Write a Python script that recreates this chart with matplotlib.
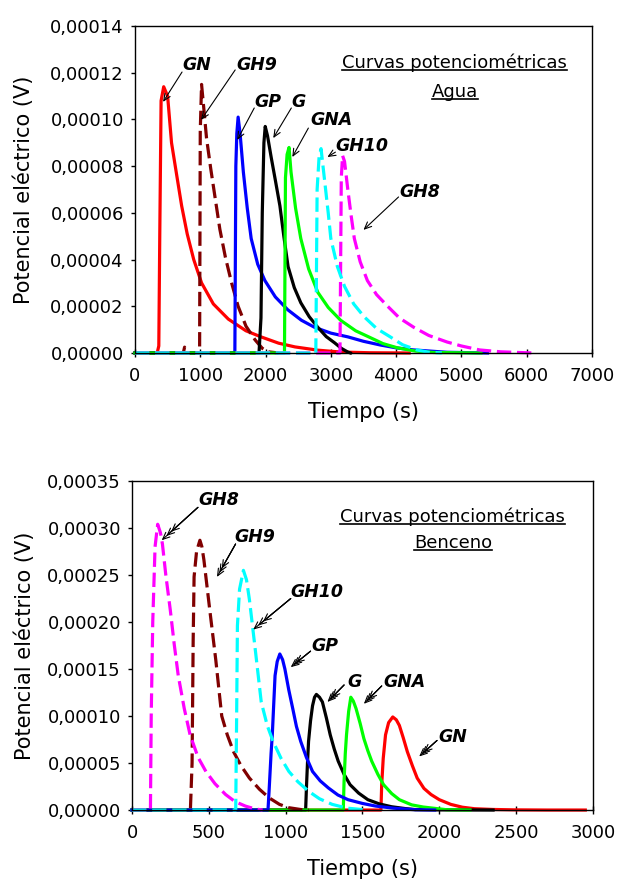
import matplotlib
matplotlib.use("Agg")
import matplotlib.pyplot as plt
from matplotlib.ticker import FuncFormatter, MultipleLocator
from matplotlib.lines import Line2D
from matplotlib.transforms import IdentityTransform

# ---- Agua (water) curves: time in s, potential in 1e-5 V ----
agua_gn_t = [0, 340, 365, 380, 400, 440, 500, 560, 640, 715, 800, 900, 1020, 1200, 1430, 1700, 1930, 2200, 2450, 2800, 3150, 3600, 4200]
agua_gn_v = [0, 0, 0.3, 5.1, 10.8, 11.4, 11.0, 9.0, 7.6, 6.3, 5.1, 4.0, 3.0, 2.1, 1.45, 0.95, 0.69, 0.42, 0.26, 0.12, 0.04, 0.01, 0]

agua_gh9_t = [0, 740, 760, 780, 990, 1000, 1020, 1060, 1096, 1160, 1230, 1300, 1385, 1480, 1580, 1700, 1840, 1950, 2040, 2200]
agua_gh9_v = [0, 0, 0.25, 0, 0, 9.5, 11.5, 10.3, 9.2, 7.9, 6.6, 5.3, 4.1, 3.0, 2.0, 1.15, 0.56, 0.2, 0.05, 0]

agua_gp_t = [0, 1530, 1545, 1560, 1580, 1610, 1660, 1720, 1780, 1880, 1990, 2150, 2340, 2550, 2750, 3000, 3260, 3500, 3760, 4000, 4270, 4780, 5400]
agua_gp_v = [0, 0, 8.0, 9.4, 10.1, 9.4, 7.75, 6.2, 4.9, 3.8, 3.1, 2.4, 1.85, 1.4, 1.1, 0.85, 0.69, 0.5, 0.34, 0.22, 0.13, 0.03, 0]

agua_g_t = [0, 1900, 1930, 1950, 1975, 1995, 2030, 2085, 2150, 2220, 2280, 2345, 2440, 2540, 2670, 2800, 2930, 3060, 3160, 3260, 3300]
agua_g_v = [0, 0, 1.5, 6.0, 9.0, 9.7, 9.3, 8.4, 7.4, 6.3, 5.0, 3.7, 2.8, 2.15, 1.55, 1.1, 0.7, 0.43, 0.2, 0.04, 0]

agua_gna_t = [0, 2290, 2305, 2330, 2360, 2390, 2460, 2540, 2660, 2800, 2960, 3150, 3380, 3610, 3800, 4020, 4300, 4580, 5300]
agua_gna_v = [0, 0, 7.5, 8.5, 8.8, 7.75, 6.2, 4.9, 3.6, 2.6, 1.95, 1.4, 0.95, 0.65, 0.4, 0.22, 0.08, 0.02, 0]

agua_gh8_t = [0, 3140, 3160, 3180, 3210, 3260, 3310, 3360, 3450, 3560, 3700, 3870, 4050, 4270, 4500, 4780, 5000, 5280, 5600, 6000, 6100]
agua_gh8_v = [0, 0, 7.5, 8.45, 8.2, 7.0, 5.9, 4.9, 3.9, 3.1, 2.5, 2.0, 1.5, 1.1, 0.75, 0.47, 0.3, 0.13, 0.05, 0.01, 0]

agua_gh10_t = [0, 2770, 2790, 2820, 2850, 2880, 2920, 2960, 3000, 3100, 3210, 3350, 3510, 3700, 3910, 4100, 4320, 4500, 4700]
agua_gh10_v = [0, 0, 7.0, 8.4, 8.75, 8.0, 7.0, 6.0, 4.9, 3.7, 2.85, 2.1, 1.55, 1.05, 0.69, 0.35, 0.13, 0.03, 0]

# ---- Benceno (benzene) curves ----
benc_gn_t = [0, 1620, 1625, 1635, 1650, 1670, 1697, 1720, 1740, 1765, 1792, 1825, 1856, 1900, 1946, 2000, 2075, 2150, 2229, 2350, 2486, 2700, 2950]
benc_gn_v = [0, 0, 2.7, 5.5, 8.0, 9.3, 9.9, 9.6, 9.0, 7.7, 6.2, 4.7, 3.4, 2.3, 1.65, 1.1, 0.6, 0.3, 0.14, 0.06, 0.02, 0, 0]

benc_g_t = [0, 1130, 1136, 1142, 1149, 1162, 1175, 1188, 1200, 1220, 1239, 1265, 1290, 1316, 1342, 1380, 1419, 1475, 1535, 1610, 1689, 1780, 1843, 2000, 2350]
benc_g_v = [0, 0, 2.7, 5, 7.3, 9.5, 11.1, 12.0, 12.3, 12.0, 11.5, 9.8, 8.0, 6.5, 5.2, 3.8, 2.7, 1.8, 1.1, 0.65, 0.35, 0.15, 0.05, 0.02, 0]

benc_gna_t = [0, 1375, 1380, 1388, 1396, 1410, 1424, 1440, 1458, 1485, 1509, 1535, 1560, 1600, 1637, 1690, 1740, 1820, 1895, 2049, 2200]
benc_gna_v = [0, 0, 3, 6, 8.0, 10.5, 12.0, 11.6, 10.8, 9.2, 7.6, 6.3, 5.2, 3.8, 2.7, 1.75, 1.1, 0.55, 0.32, 0.03, 0]

benc_gp_t = [0, 885, 892, 905, 913, 931, 945, 962, 980, 995, 1020, 1046, 1070, 1098, 1135, 1175, 1225, 1278, 1340, 1406, 1500, 1586, 1700, 1843, 1970]
benc_gp_v = [0, 0, 2, 6, 8.0, 14.3, 15.8, 16.6, 16.0, 15.0, 12.8, 10.8, 8.9, 7.3, 5.6, 4.1, 3.1, 2.35, 1.6, 1.1, 0.7, 0.42, 0.2, 0.03, 0]

benc_gh9_t = [0, 380, 391, 398, 404, 420, 442, 455, 468, 506, 545, 584, 620, 661, 710, 764, 830, 892, 960, 1020, 1100, 1150]
benc_gh9_v = [0, 0, 5, 18, 24.8, 27.5, 28.7, 28.0, 26.6, 21.3, 16.0, 10.0, 8.0, 6.2, 4.7, 3.4, 2.2, 1.3, 0.6, 0.25, 0.05, 0]

benc_gh8_t = [0, 120, 125, 135, 150, 167, 185, 198, 220, 249, 275, 301, 340, 378, 430, 481, 540, 609, 670, 738, 800, 850]
benc_gh8_v = [0, 0, 10, 20, 28, 30.4, 29.5, 28.3, 25.0, 21.3, 17.6, 14.3, 10.8, 8.0, 5.6, 4.1, 2.8, 1.65, 0.9, 0.42, 0.12, 0]

benc_gh10_t = [0, 675, 681, 686, 700, 725, 745, 764, 802, 841, 880, 918, 970, 1021, 1080, 1149, 1220, 1303, 1400, 1530]
benc_gh10_v = [0, 0, 10, 19.6, 23.5, 25.5, 24.5, 22.4, 17.1, 11.5, 9.0, 7.3, 5.5, 4.1, 3.0, 2.0, 1.2, 0.6, 0.2, 0]

RED, DRED, BLUE, BLACK, GREEN, CYAN, MAG = "#FF0000", "#800000", "#0000FF", "#000000", "#00FF00", "#00FFFF", "#FF00FF"
DASH = (0, (4.5, 1.8))

agua_series = [
    (agua_gn_t, agua_gn_v, RED, "-"),
    (agua_gh9_t, agua_gh9_v, DRED, DASH),
    (agua_gp_t, agua_gp_v, BLUE, "-"),
    (agua_g_t, agua_g_v, BLACK, "-"),
    (agua_gna_t, agua_gna_v, GREEN, "-"),
    (agua_gh8_t, agua_gh8_v, MAG, DASH),
    (agua_gh10_t, agua_gh10_v, CYAN, DASH),
]
benc_series = [
    (benc_gn_t, benc_gn_v, RED, "-"),
    (benc_g_t, benc_g_v, BLACK, "-"),
    (benc_gna_t, benc_gna_v, GREEN, "-"),
    (benc_gp_t, benc_gp_v, BLUE, "-"),
    (benc_gh9_t, benc_gh9_v, DRED, DASH),
    (benc_gh8_t, benc_gh8_v, MAG, DASH),
    (benc_gh10_t, benc_gh10_v, CYAN, DASH),
]

# labels: name, text pos, arrow start, arrow tip  (t, V*1e5)
agua_labels = [
    ("GN", (952, 12.33), (721, 12.03), (430, 10.75)),
    ("GH9", (1873, 12.33), (1535, 12.12), (1013, 9.98)),
    ("GP", (2042, 10.75), (1827, 10.49), (1566, 9.12)),
    ("G", (2502, 10.75), (2395, 10.49), (2118, 9.2)),
    ("GNA", (3009, 9.98), (2656, 9.63), (2410, 8.39)),
    ("GH10", (3469, 8.86), (3070, 8.6), (2947, 8.39)),
    ("GH8", (4360, 6.89), (4037, 6.68), (3500, 5.27)),
]
benc_labels = [
    ("GH8", (563, 33.0), (429, 32.2), (193, 28.7)),
    ("GH9", (802, 29.0), (674, 28.3), (553, 24.8)),
    ("GH10", (1200, 23.2), (1033, 22.5), (789, 19.2)),
    ("GP", (1252, 17.4), (1162, 16.9), (1033, 15.2)),
    ("G", (1445, 13.65), (1380, 13.3), (1272, 11.5)),
    ("GNA", (1771, 13.65), (1625, 13.2), (1509, 11.3)),
    ("GN", (2088, 7.8), (1985, 7.4), (1869, 5.7)),
]

fig = plt.figure(figsize=(6.18, 8.82), dpi=100)
ax1 = fig.add_axes([0.2184, 0.5998, 0.7395, 0.3707])
ax2 = fig.add_axes([0.2136, 0.0816, 0.7459, 0.373])

fmt = FuncFormatter(lambda v, p: ("%.5f" % v).replace(".", ","))


def setup(ax, xmax, xstep, ymax, ystep, xlab_y, ylab_x):
    ax.set_xlim(0, xmax)
    ax.set_ylim(0, ymax)
    ax.xaxis.set_major_locator(MultipleLocator(xstep))
    ax.yaxis.set_major_locator(MultipleLocator(ystep))
    ax.yaxis.set_major_formatter(fmt)
    ax.tick_params(labelsize=13, colors="black", width=1)
    ax.tick_params(axis="x", direction="inout", length=6, pad=7)
    ax.tick_params(axis="y", direction="out", length=3, pad=5)
    for s in ax.spines.values():
        s.set_linewidth(1)
    ax.set_xlabel("Tiempo (s)", fontsize=15)
    ax.set_ylabel("Potencial eléctrico (V)", fontsize=15)
    ax.xaxis.set_label_coords(0.5, xlab_y)
    ax.yaxis.set_label_coords(ylab_x, 0.5)


def draw(ax, series, labels, multi):
    for t, v, c, ls in series:
        ax.plot(t, [x * 1e-5 for x in v], color=c, lw=2.3, linestyle=ls, clip_on=False)
    for name, tp, st, tip in labels:
        ax.text(tp[0], tp[1] * 1e-5, name, fontsize=12.5, fontweight="bold",
                fontstyle="italic", ha="center", va="center")
        n = 3 if multi else 1
        for k in range(n):
            f = 0.13 * k
            end = (tip[0] + f * (st[0] - tip[0]), (tip[1] + f * (st[1] - tip[1])) * 1e-5)
            ax.annotate("", xy=end, xytext=(st[0], st[1] * 1e-5),
                        arrowprops=dict(arrowstyle="->,head_length=0.5,head_width=0.22",
                                        lw=0.8, color="black", shrinkA=0, shrinkB=0))


setup(ax1, 7000, 1000, 0.00014, 0.00002, -0.15, -0.222)
draw(ax1, agua_series, agua_labels, False)
setup(ax2, 3000, 500, 0.00035, 0.00005, -0.15, -0.211)
draw(ax2, benc_series, benc_labels, True)

titles = [
    (ax1, 0.70, 0.887, "Curvas potenciométricas"),
    (ax1, 0.70, 0.798, "Agua"),
    (ax2, 0.696, 0.891, "Curvas potenciométricas"),
    (ax2, 0.696, 0.812, "Benceno"),
]
texts = [ax.text(x, y, s, transform=ax.transAxes, fontsize=13, ha="center", va="center")
         for ax, x, y, s in titles]

fig.canvas.draw()
for t in texts:
    bb = t.get_window_extent()
    fig.add_artist(Line2D([bb.x0, bb.x1], [bb.y0 + 2, bb.y0 + 2], lw=1.2,
                          color="black", transform=IdentityTransform()))

fig.savefig("out.png", dpi=100)
